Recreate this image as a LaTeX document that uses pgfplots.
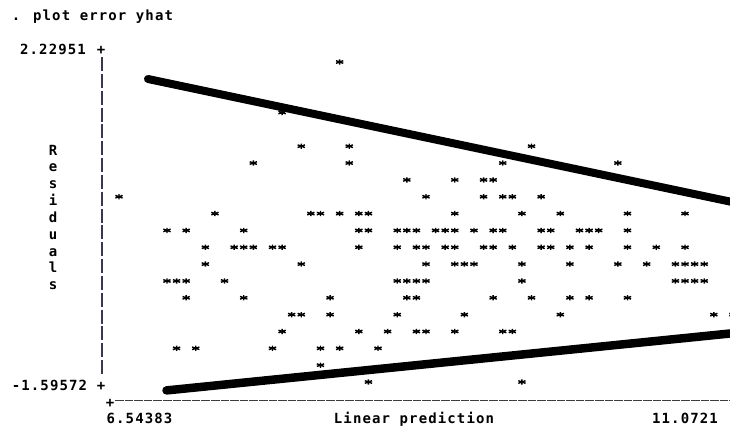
\documentclass[border=0pt]{standalone}
\usepackage{pgfplots}
\pgfplotsset{compat=1.18}
\usepackage{pgfplotstable}
\usepackage{fontspec}
\newfontfamily\statafont{DejaVu Sans Mono}[LetterSpace=8]
\definecolor{bar}{RGB}{62,54,78}
\definecolor{axgray}{RGB}{60,60,60}

\pgfplotstableread{
x y
8.17117 2.22951
7.74665 1.62553
7.88816 1.22287
8.24193 1.22287
9.58625 1.22287
7.53439 1.02154
8.24193 1.02154
9.37399 1.02154
10.22304 1.02154
8.66645 0.82021
9.02022 0.82021
9.23248 0.82021
9.30324 0.82021
6.54383 0.61889
8.80796 0.61889
9.23248 0.61889
9.37399 0.61889
9.44474 0.61889
9.65701 0.61889
7.25137 0.41756
7.95891 0.41756
8.02966 0.41756
8.17117 0.41756
8.31268 0.41756
8.38343 0.41756
9.02022 0.41756
9.51550 0.41756
9.79851 0.41756
10.29379 0.41756
10.71832 0.41756
6.89760 0.21623
7.03911 0.21623
7.46363 0.21623
8.31268 0.21623
8.38343 0.21623
8.59570 0.21623
8.66645 0.21623
8.73720 0.21623
8.87871 0.21623
8.94947 0.21623
9.02022 0.21623
9.16173 0.21623
9.30324 0.21623
9.37399 0.21623
9.65701 0.21623
9.72776 0.21623
9.94002 0.21623
10.01078 0.21623
10.08153 0.21623
10.29379 0.21623
7.18062 0.01490
7.39288 0.01490
7.46363 0.01490
7.53439 0.01490
7.67589 0.01490
7.74665 0.01490
8.31268 0.01490
8.59570 0.01490
8.73720 0.01490
8.80796 0.01490
8.94947 0.01490
9.02022 0.01490
9.23248 0.01490
9.30324 0.01490
9.44474 0.01490
9.65701 0.01490
9.72776 0.01490
9.86927 0.01490
10.01078 0.01490
10.29379 0.01490
10.50605 0.01490
10.71832 0.01490
7.18062 -0.18643
7.88816 -0.18643
8.80796 -0.18643
9.02022 -0.18643
9.09097 -0.18643
9.16173 -0.18643
9.51550 -0.18643
9.86927 -0.18643
10.22304 -0.18643
10.43530 -0.18643
10.64756 -0.18643
10.71832 -0.18643
10.78907 -0.18643
10.85982 -0.18643
6.89760 -0.38776
6.96835 -0.38776
7.03911 -0.38776
7.32212 -0.38776
8.59570 -0.38776
8.66645 -0.38776
8.73720 -0.38776
8.80796 -0.38776
9.51550 -0.38776
10.64756 -0.38776
10.71832 -0.38776
10.78907 -0.38776
10.85982 -0.38776
7.03911 -0.58908
7.46363 -0.58908
8.10042 -0.58908
8.66645 -0.58908
8.73720 -0.58908
9.30324 -0.58908
9.58625 -0.58908
9.86927 -0.58908
10.01078 -0.58908
10.29379 -0.58908
7.81740 -0.79041
7.88816 -0.79041
8.10042 -0.79041
8.59570 -0.79041
9.09097 -0.79041
9.79851 -0.79041
10.93058 -0.79041
11.07209 -0.79041
7.74665 -0.99174
8.31268 -0.99174
8.52494 -0.99174
8.73720 -0.99174
8.80796 -0.99174
9.02022 -0.99174
9.37399 -0.99174
9.44474 -0.99174
6.96835 -1.19307
7.10986 -1.19307
7.67589 -1.19307
8.02966 -1.19307
8.17117 -1.19307
8.45419 -1.19307
8.02966 -1.39439
8.94947 -1.35439
8.38343 -1.59572
9.51550 -1.59572
}\resid

\begin{document}
\begin{tikzpicture}
\useasboundingbox (0bp,0bp) rectangle (730bp,-429bp);
\begin{axis}[
  at={(119bp,-382bp)}, anchor=south west,
  scale only axis, width=614bp, height=320bp,
  xmin=6.54383, xmax=11.07209, ymin=-1.59572, ymax=2.22951,
  hide axis, clip=false,
]
\addplot[only marks, mark=asterisk, mark size=3.1bp, black,
  mark options={line width=1.4bp, xscale=1.35, yscale=0.85}]
  table[x=x,y=y] {\resid};
\addplot[no marks, line width=8bp, line cap=round, black]
  coordinates {(6.7577,2.0263) (11.0721,0.5536)};
\addplot[no marks, line width=8.5bp, line cap=round, black]
  coordinates {(6.8941,-1.6963) (11.0721,-1.0124)};
\end{axis}
% frame drawn as in the text-mode plot
\draw[bar, line width=2.6bp, dash pattern=on 14bp off 2.835bp] (102bp,-57bp) -- (102bp,-376.5bp);
\draw[axgray, line width=1.1bp, dash pattern=on 8.6bp off 1bp] (115bp,-400.5bp) -- (731bp,-400.5bp);
\begin{scope}[every node/.style={inner sep=0pt, anchor=base, font=\statafont\bfseries\fontsize{14bp}{16bp}\selectfont}]
\node at (92.5bp,-20.5bp) {. plot error yhat};
\node at (53bp,-54.5bp) {2.22951};
\node at (101bp,-54.5bp) {+};
\node at (49.5bp,-390bp) {-1.59572};
\node at (101bp,-390bp) {+};
\node at (110bp,-407bp) {+};
\node at (139.5bp,-423.5bp) {6.54383};
\node at (414bp,-423.5bp) {Linear prediction};
\node at (685bp,-423.5bp) {11.0721};
\node at (53bp,-155bp) {R};
\node at (53bp,-171.8bp) {e};
\node at (53bp,-188.7bp) {s};
\node at (53bp,-205.5bp) {i};
\node at (53bp,-222.3bp) {d};
\node at (53bp,-239.2bp) {u};
\node at (53bp,-256bp) {a};
\node at (53bp,-272.8bp) {l};
\node at (53bp,-289.7bp) {s};
\end{scope}
\end{tikzpicture}
\end{document}
